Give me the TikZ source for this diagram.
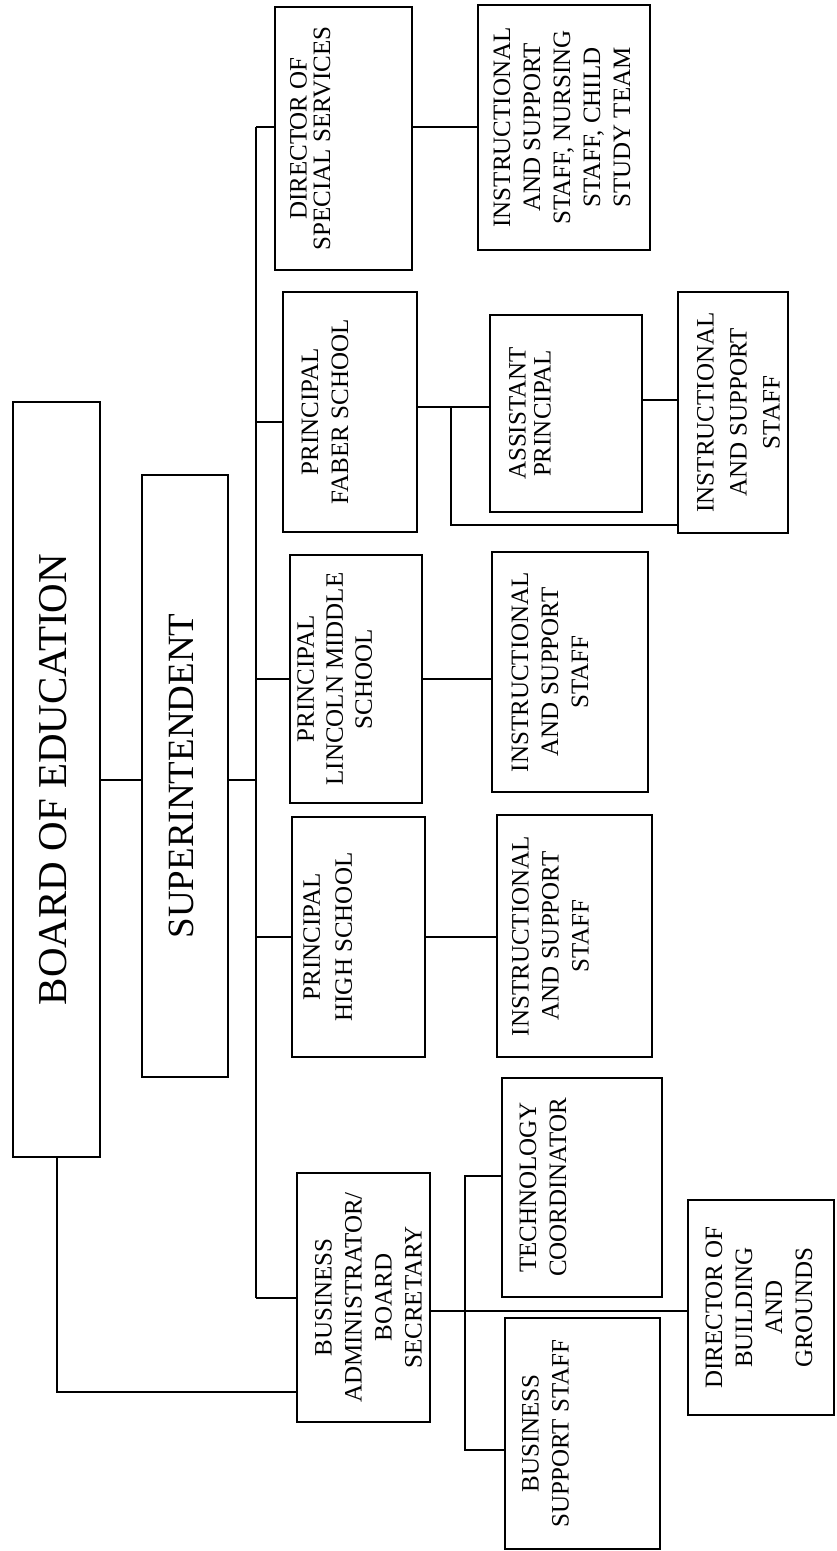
\documentclass[tikz,border=0pt]{standalone}
\usepackage{fontspec}
\setmainfont{Liberation Serif}
\usepackage{graphicx}

% text of a box, turned a quarter, optional shift to the left (in px)
\newcommand{\boxtext}[2][0]{\rotatebox{90}{\begin{tabular}{@{}c@{}}#2\end{tabular}}\hspace*{#1pt}}

\begin{document}
\begin{tikzpicture}[x=0.5pt, y=-0.5pt, line width=1pt,
  orgbox/.style={draw, line width=1.3pt, inner sep=0pt, font=\fontsize{12.5}{15}\selectfont},
  spans/.style n args={4}{orgbox, minimum width={(#3-#1)*0.5pt}, minimum height={(#4-#2)*0.5pt},
    at={({(#1+#3)/2},{(#2+#4)/2})}}]

\useasboundingbox (0,0) rectangle (836,1551);

% Board and superintendent
\node (boe) [spans={13}{402}{100}{1157}, font=\fontsize{20.5}{24}\selectfont] {\boxtext{BOARD OF EDUCATION}};
\node (supt) [spans={142}{475}{228}{1077}, font=\fontsize{18.5}{22}\selectfont] {\boxtext{SUPERINTENDENT}};

% Directors and principals
\node (dss) [spans={275}{7}{412}{270}, font=\fontsize{12.5}{11.5}\selectfont] {\boxtext[30]{DIRECTOR OF\\SPECIAL SERVICES}};
\node (pfs) [spans={283}{292}{417}{532}] {\boxtext[23]{PRINCIPAL\\FABER SCHOOL}};
\node (plms) [spans={290}{555}{422}{803}, font=\fontsize{12.5}{14.5}\selectfont] {\boxtext[19]{PRINCIPAL\\LINCOLN MIDDLE\\SCHOOL}};
\node (phs) [spans={292}{817}{425}{1057}, font=\fontsize{12.5}{16}\selectfont] {\boxtext[29]{PRINCIPAL\\HIGH SCHOOL}};
\node (bas) [spans={297}{1173}{430}{1422}] {\boxtext[-7]{BUSINESS\\ADMINISTRATOR/\\BOARD\\SECRETARY}};

% Staff
\node (isdss) [spans={478}{5}{650}{250}] {\boxtext{INSTRUCTIONAL\\AND SUPPORT\\STAFF, NURSING\\STAFF, CHILD\\STUDY TEAM}};
\node (ap) [spans={490}{315}{642}{512}, font=\fontsize{12.5}{12.5}\selectfont] {\boxtext[33]{ASSISTANT\\PRINCIPAL}};
\node (isf) [spans={678}{292}{788}{533}, font=\fontsize{12.5}{16.5}\selectfont] {\boxtext[-7]{INSTRUCTIONAL\\AND SUPPORT\\STAFF}};
\node (isl) [spans={492}{552}{648}{792}] {\boxtext[18]{INSTRUCTIONAL\\AND SUPPORT\\STAFF}};
\node (ish) [spans={497}{815}{652}{1057}] {\boxtext[22]{INSTRUCTIONAL\\AND SUPPORT\\STAFF}};
\node (tc) [spans={502}{1078}{662}{1297}] {\boxtext[37]{TECHNOLOGY\\COORDINATOR}};
\node (bss) [spans={505}{1318}{660}{1549}] {\boxtext[35]{BUSINESS\\SUPPORT STAFF}};
\node (dbg) [spans={688}{1200}{834}{1415}] {\boxtext{DIRECTOR OF\\BUILDING\\AND\\GROUNDS}};

% Board to superintendent, superintendent to the bus
\coordinate (b0) at (256,780);
\draw (boe.east) -- (boe.east -| supt.west);
\draw (b0 -| supt.east) -- (b0);

% Bus line
\coordinate (btop) at (256,127);
\coordinate (bbot) at (256,1298);
\coordinate (b2) at (256,422);
\draw (btop) -- (bbot);
\draw (btop) -- (btop -| dss.west);
\draw (b2) -- (b2 -| pfs.west);
\draw (plms.west -| btop) -- (plms.west);
\draw (phs.west -| btop) -- (phs.west);
\draw (bbot) -- (bbot -| bas.west);

% Board straight to business administrator
\coordinate (corner) at (57,1392);
\draw (boe.south -| corner) -- (corner) -- (corner -| bas.west);

% Second level
\draw (btop -| dss.east) -- (btop -| isdss.west);
\coordinate (f1) at (451,407);
\coordinate (f2) at (451,525);
\coordinate (f3) at (660,400);
\draw (f1 -| pfs.east) -- (f1 -| ap.west);
\draw (f1) -- (f2) -- (f2 -| isf.west);
\draw (f3 -| ap.east) -- (f3 -| isf.west);
\draw (plms.east) -- (plms.east -| isl.west);
\draw (phs.east) -- (phs.east -| ish.west);

% Business administrator's staff
\coordinate (s1) at (465,1176);
\coordinate (s2) at (465,1450);
\coordinate (s3) at (465,1311);
\draw (s1 -| tc.west) -- (s1) -- (s2) -- (s2 -| bss.west);
\draw (s3 -| bas.east) -- (s3 -| dbg.west);

\end{tikzpicture}
\end{document}
